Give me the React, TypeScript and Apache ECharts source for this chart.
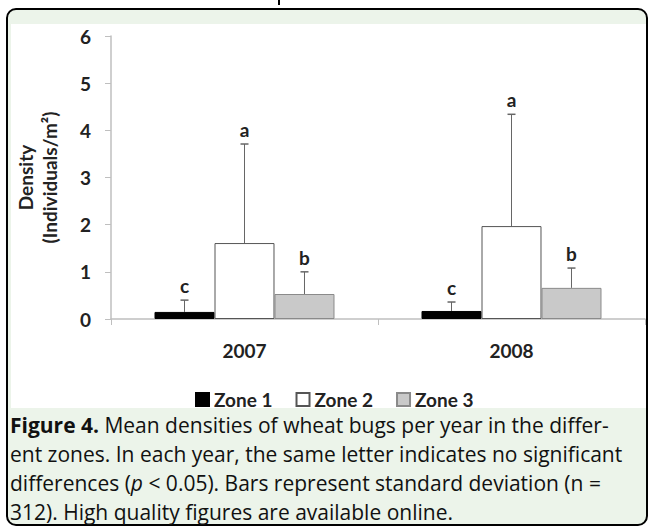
import React, { useEffect, useRef } from "react";
import * as echarts from "echarts";

const categories = ["2007", "2008"];
const zoneNames = ["Zone 1", "Zone 2", "Zone 3"];
const zone1Mean = [0.15, 0.17];
const zone2Mean = [1.61, 1.97];
const zone3Mean = [0.53, 0.66];
const zone1Sd = [0.25, 0.19];
const zone2Sd = [2.1, 2.37];
const zone3Sd = [0.47, 0.42];
const zone1Letters = ["c", "c"];
const zone2Letters = ["a", "a"];
const zone3Letters = ["b", "b"];
const yTicks = [0, 1, 2, 3, 4, 5, 6];

const captionLines = [
  "{b|Figure 4.} Mean densities of wheat bugs per year in the differ-",
  "ent zones. In each year, the same letter indicates no significant",
  "differences ({i|p} < 0.05). Bars represent standard deviation (n =",
  "312). High quality figures are available online.",
];

const FONT = "Lato, 'Open Sans', sans-serif";
const CAP_FONT = "'Open Sans', Lato, sans-serif";
const BAR_FRAC = 0.2247;

export default function App() {
  const ref = useRef<HTMLDivElement>(null);
  useEffect(() => {
    if (!ref.current) return;
    const chart = echarts.init(ref.current, undefined, { renderer: "svg" });
    const means = [zone1Mean, zone2Mean, zone3Mean];
    const sds = [zone1Sd, zone2Sd, zone3Sd];
    const letters = [zone1Letters, zone2Letters, zone3Letters];
    const fills = ["#000000", "#ffffff", "#c9c9c9"];
    const borders = ["#000000", "#555555", "#8a8a8a"];

    const barSeries = zoneNames.map((name, zi) => ({
      name,
      type: "bar",
      data: means[zi],
      barWidth: BAR_FRAC * 100 + "%",
      barGap: "0%",
      itemStyle: { color: fills[zi], borderColor: borders[zi], borderWidth: 1 },
      z: 2,
    }));

    const errSeries = zoneNames.map((name, zi) => ({
      name: name + " SD",
      type: "custom",
      data: categories.map((_, ci) => [ci, means[zi][ci], sds[zi][ci]]),
      encode: { x: 0, y: 1 },
      z: 5,
      renderItem: (params: any, api: any) => {
        const ci = api.value(0);
        const m = api.value(1);
        const sd = api.value(2);
        const base = api.coord([ci, m]);
        const top = api.coord([ci, m + sd]);
        const cw = api.size([1, 0])[0];
        const x = base[0] + (zi - 1) * cw * BAR_FRAC;
        return {
          type: "group",
          children: [
            { type: "line", shape: { x1: x, y1: base[1], x2: x, y2: top[1] }, style: { stroke: "#666", lineWidth: 1 } },
            { type: "line", shape: { x1: x - 4, y1: top[1], x2: x + 4, y2: top[1] }, style: { stroke: "#666", lineWidth: 1.5 } },
            {
              type: "text",
              style: {
                text: letters[zi][params.dataIndex],
                x,
                y: top[1] - 5,
                align: "center",
                verticalAlign: "bottom",
                font: "bold 19px " + FONT,
                fill: "#222",
              },
            },
          ],
        };
      },
    }));

    chart.setOption({
      animation: false,
      textStyle: { fontFamily: FONT },
      graphic: [
        { type: "line", z: -100, shape: { x1: 279, y1: 0, x2: 279, y2: 5 }, style: { stroke: "#000", lineWidth: 2 } },
        { type: "rect", z: -100, shape: { x: 7, y: 9, width: 640, height: 516, r: 9 }, style: { fill: "#ecf4ea", stroke: "#000", lineWidth: 2 } },
        { type: "rect", z: -99, shape: { x: 11, y: 24, width: 635, height: 384 }, style: { fill: "#ffffff" } },
        ...captionLines.map((t, i) => ({
          type: "text",
          z: 10,
          left: 10,
          top: 414 + i * 29,
          style: {
            text: t,
            font: "21px " + CAP_FONT,
            fill: "#111",
            rich: {
              b: { fontWeight: "bold", fontSize: 21, fontFamily: CAP_FONT, fill: "#111" },
              i: { fontStyle: "italic", fontSize: 21, fontFamily: CAP_FONT, fill: "#111" },
            },
          },
        })),
      ],
      grid: { left: 111, right: 4, top: 36, bottom: 210, containLabel: false },
      legend: {
        data: zoneNames,
        left: 190,
        top: 385,
        icon: "rect",
        itemWidth: 13,
        itemHeight: 13,
        itemGap: 23,
        textStyle: { fontSize: 19, fontWeight: "bold", color: "#222", fontFamily: FONT },
      },
      xAxis: {
        type: "category",
        data: categories,
        axisLine: { lineStyle: { color: "#bfbfbf", width: 1.5 } },
        axisTick: { show: true, length: 6, lineStyle: { color: "#bfbfbf" } },
        axisLabel: { fontSize: 19, fontWeight: "bold", color: "#222", margin: 22 },
      },
      yAxis: {
        type: "value",
        min: yTicks[0],
        max: yTicks[yTicks.length - 1],
        interval: 1,
        name: "Density\n(Individuals/m²)",
        nameLocation: "middle",
        nameGap: 50,
        nameRotate: 90,
        nameTextStyle: { fontSize: 19, fontWeight: "bold", color: "#222", lineHeight: 24, fontFamily: FONT },
        axisLine: { show: true, lineStyle: { color: "#bfbfbf", width: 1.5 } },
        axisTick: { show: true, length: 6, lineStyle: { color: "#bfbfbf" } },
        splitLine: { show: false },
        axisLabel: { fontSize: 19, fontWeight: "bold", color: "#222", margin: 20 },
      },
      series: [...barSeries, ...errSeries],
    });
    return () => chart.dispose();
  }, []);
  return <div ref={ref} style={{ position: "absolute", left: 0, top: 0, width: 649, height: 529 }} />;
}
